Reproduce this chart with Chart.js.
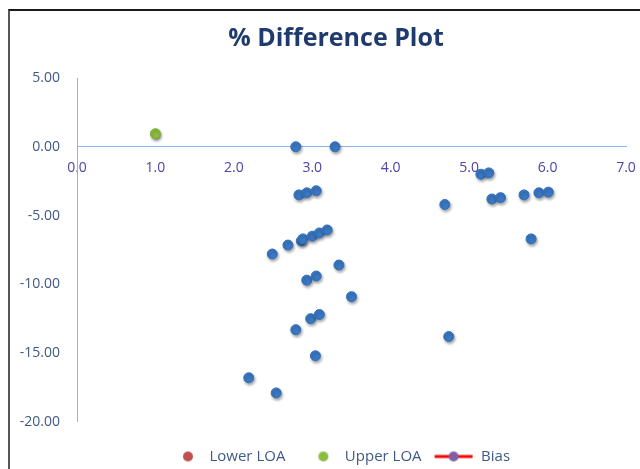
<!doctype html>
<html lang="en">
<head>
    <meta charset="utf-8">
    <title>% Difference Plot</title>
    <script src="https://cdn.jsdelivr.net/npm/chart.js"></script>
    <style>
        html, body { margin: 0; padding: 0; background: #fff; overflow: hidden; }
        .wrap { position: relative; width: 640px; height: 469px; }
        .frame {
            position: absolute; left: 8px; top: 9px; right: -10px; bottom: -10px;
            border-top: 2px solid #1a1a1a; border-left: 2px solid #555;
            pointer-events: none;
        }
    </style>
</head>
<body>
    <div class="wrap">
        <canvas id="diffChart" width="640" height="469"></canvas>
        <div class="frame"></div>
    </div>

    <script>
        const diffX = [2.79, 3.29, 2.83, 2.93, 3.05, 2.49, 2.69, 2.86, 2.88, 3.00, 3.09, 3.19, 3.34,
            2.93, 3.05, 3.50, 2.98, 3.09, 2.79, 3.04, 2.19, 2.54,
            4.69, 4.74, 5.15, 5.25, 5.29, 5.40, 5.70, 5.89, 6.01, 5.79];
        const diffY = [0.0, 0.0, -3.5, -3.35, -3.2, -7.8, -7.15, -6.85, -6.7, -6.5, -6.27, -6.05, -8.6,
            -9.7, -9.4, -10.9, -12.5, -12.2, -13.3, -15.2, -16.8, -17.9,
            -4.2, -13.8, -2.0, -1.9, -3.8, -3.7, -3.5, -3.35, -3.3, -6.7];

        // limits of agreement and bias (all sit at x = 1, green on top)
        const loaX = [1.0];
        const lowerLOA = [0.95];
        const upperLOA = [0.95];
        const biasY = [0.95];

        const xTicks = [0, 1, 2, 3, 4, 5, 6, 7];
        const yTicks = [5, 0, -5, -10, -15, -20];

        const toPoints = (xs, ys) => xs.map((x, i) => ({ x: x, y: ys[i] }));

        // little legend markers like the excel ones
        const makeMarker = (fill, withLine) => {
            const c = document.createElement('canvas');
            c.width = 40; c.height = 14;
            const g = c.getContext('2d');
            let cx = 26;
            if (withLine) {
                g.strokeStyle = '#FF0000';
                g.lineWidth = 3;
                g.beginPath(); g.moveTo(1, 7); g.lineTo(39, 7); g.stroke();
                cx = 20;
            }
            g.fillStyle = fill;
            g.beginPath(); g.arc(cx, 7, 5, 0, Math.PI * 2); g.fill();
            return c;
        };

        const markerShadow = {
            id: 'markerShadow',
            beforeDatasetsDraw(chart) {
                const ctx = chart.ctx;
                ctx.save();
                ctx.shadowColor = 'rgba(0,0,0,0.35)';
                ctx.shadowBlur = 3;
                ctx.shadowOffsetX = 1;
                ctx.shadowOffsetY = 2;
            },
            afterDatasetsDraw(chart) {
                chart.ctx.restore();
            }
        };

        const font = "'Open Sans', 'Noto Sans', sans-serif";
        const axisBlue = '#8FB4E8';

        new Chart(document.getElementById('diffChart'), {
            type: 'scatter',
            data: {
                datasets: [
                    {
                        label: 'Data',
                        data: toPoints(diffX, diffY),
                        backgroundColor: '#3A78C3',
                        borderColor: '#3470BC',
                        borderWidth: 1,
                        pointRadius: 5,
                        pointHoverRadius: 5
                    },
                    {
                        label: 'Lower LOA',
                        data: toPoints(loaX, lowerLOA),
                        backgroundColor: '#C0504D',
                        borderColor: '#C0504D',
                        borderWidth: 0,
                        pointRadius: 3,
                        legendMarker: makeMarker('#C0504D', false)
                    },
                    {
                        label: 'Upper LOA',
                        data: toPoints(loaX, upperLOA),
                        backgroundColor: '#8DBB3E',
                        borderColor: '#80AC36',
                        borderWidth: 1,
                        pointRadius: 5,
                        order: -1,
                        legendMarker: makeMarker('#8DBB3E', false)
                    },
                    {
                        label: 'Bias',
                        data: toPoints(loaX, biasY),
                        backgroundColor: '#7F5FA6',
                        borderColor: '#FF0000',
                        showLine: true,
                        borderWidth: 0,
                        pointRadius: 3,
                        legendMarker: makeMarker('#7F5FA6', true)
                    }
                ]
            },
            options: {
                responsive: false,
                animation: false,
                layout: { padding: { left: 18, right: -14, top: 10, bottom: -5 } },
                scales: {
                    x: {
                        type: 'linear',
                        position: { y: 0 },
                        min: 0,
                        max: 7,
                        afterBuildTicks: (s) => { s.ticks = xTicks.map(v => ({ value: v })); },
                        // labels may hang over the ends, like excel
                        afterFit: (s) => { s.paddingLeft = 0; s.paddingRight = 0; },
                        grid: { display: false, drawTicks: false },
                        border: { display: true, color: axisBlue, width: 1 },
                        ticks: {
                            padding: 13,
                            color: '#4A45A8',
                            font: { family: font, size: 14 },
                            callback: (v) => Number(v).toFixed(1)
                        }
                    },
                    y: {
                        type: 'linear',
                        position: 'left',
                        min: -20,
                        max: 5,
                        afterBuildTicks: (s) => { s.ticks = yTicks.map(v => ({ value: v })); },
                        afterFit: (s) => { s.width = 59; },
                        grid: { display: false, drawTicks: false },
                        border: { display: true, color: axisBlue, width: 1 },
                        ticks: {
                            padding: 17,
                            color: '#3F5A85',
                            font: { family: font, size: 14 },
                            callback: (v) => Number(v).toFixed(2)
                        }
                    },
                    // empty strip on the right so the plot ends where excel's does
                    yRight: {
                        type: 'linear',
                        position: 'right',
                        afterFit: (s) => { s.width = 28; },
                        grid: { display: false, drawTicks: false },
                        border: { display: false },
                        ticks: { display: false }
                    }
                },
                plugins: {
                    title: {
                        display: true,
                        text: '% Difference Plot',
                        color: '#1F3B6E',
                        font: { family: font, size: 25, weight: 'bold' },
                        padding: { top: 14, bottom: 24 }
                    },
                    legend: {
                        position: 'bottom',
                        title: { display: true, text: '', font: { size: 1 }, padding: { top: 14, bottom: 0 } },
                        labels: {
                            usePointStyle: true,
                            pointStyleWidth: 40,
                            padding: 12,
                            color: '#3F5A85',
                            font: { family: font, size: 15 },
                            filter: (item) => item.text !== 'Data',
                            sort: (a, b) => a.datasetIndex - b.datasetIndex,
                            generateLabels: (chart) => {
                                const items = Chart.defaults.plugins.legend.labels.generateLabels(chart);
                                items.forEach(it => {
                                    const ds = chart.data.datasets[it.datasetIndex];
                                    if (ds.legendMarker) it.pointStyle = ds.legendMarker;
                                });
                                return items;
                            }
                        }
                    },
                    tooltip: { enabled: false }
                }
            },
            plugins: [markerShadow]
        });
    </script>
</body>
</html>
